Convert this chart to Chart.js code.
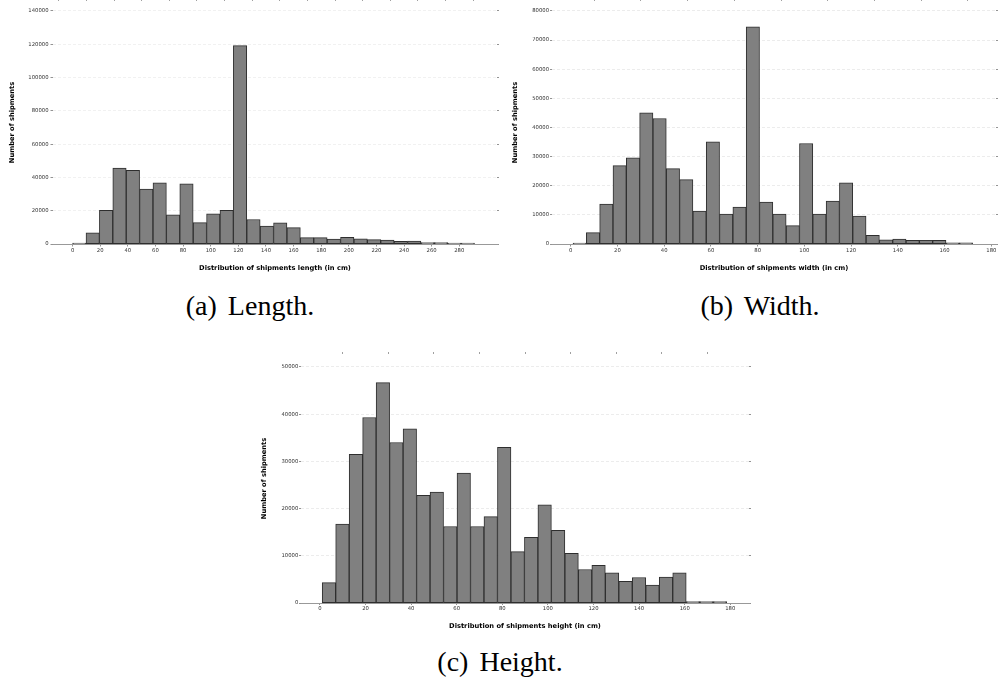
<!DOCTYPE html>
<html>
<head>
<meta charset="utf-8">
<script src="https://cdn.jsdelivr.net/npm/chart.js@4.4.1/dist/chart.umd.min.js"></script>
<style>
  body { margin: 0; background: #fff; width: 999px; height: 684px; position: relative; overflow: hidden; }
  canvas { position: absolute; }
  .caption { position: absolute; width: 300px; text-align: center; font-family: 'Liberation Serif', serif; font-size: 28px; line-height: 28px; word-spacing: 4px; color: #000; }
</style>
</head>
<body>
<canvas id="lengthChart" width="500" height="280" style="left:0;top:0"></canvas>
<canvas id="widthChart" width="499" height="280" style="left:500px;top:0"></canvas>
<canvas id="heightChart" width="502" height="300" style="left:250px;top:340px"></canvas>
<div class="caption" style="left:100px;top:292px">(a) Length.</div>
<div class="caption" style="left:610px;top:292px">(b) Width.</div>
<div class="caption" style="left:350px;top:648px">(c) Height.</div>
<script>
// counts per bin (30 bins each)
const lengthCounts = [600, 6700, 20200, 45600, 44200, 33000, 36800, 17600, 36200, 12800,
                      18200, 20200, 119200, 14700, 10800, 12700, 9800, 3800, 3800, 3000,
                      4000, 3100, 2600, 2400, 1600, 1700, 900, 800, 600, 500];
const widthCounts = [300, 3900, 13700, 26900, 29600, 45000, 43100, 25900, 22100, 11300,
                     35100, 10300, 12700, 74600, 14400, 10300, 6300, 34500, 10300, 14700,
                     21000, 9600, 3000, 1400, 1700, 1300, 1300, 1300, 400, 400];
const heightCounts = [4300, 16700, 31500, 39300, 46700, 34000, 36900, 22800, 23500, 16200,
                      27500, 16200, 18300, 33000, 10900, 13900, 20800, 15400, 10500, 7100,
                      8000, 6400, 4600, 5400, 3800, 5500, 6400, 300, 300, 300];

// first and last bin edge (cm)
const lengthRange = [0, 291];
const widthRange = [1, 172];
const heightRange = [1, 178.4];

// tick labels
const lengthTicks = [0, 20, 40, 60, 80, 100, 120, 140, 160, 180, 200, 220, 240, 260, 280];
const sizeTicks = [0, 20, 40, 60, 80, 100, 120, 140, 160, 180];
const lengthCountTicks = [0, 20000, 40000, 60000, 80000, 100000, 120000, 140000];
const widthCountTicks = [0, 10000, 20000, 30000, 40000, 50000, 60000, 70000, 80000];
const heightCountTicks = [0, 10000, 20000, 30000, 40000, 50000];

const fam = 'DejaVu Sans';

function binData(counts, range) {
    const w = (range[1] - range[0]) / counts.length;
    return counts.map((c, i) => ({ x: range[0] + (i + 0.5) * w, y: c }));
}

function fixTicks(list) {
    return axis => { axis.ticks = list.map(v => ({ value: v })); };
}

// fixed axis box sizes, no extra label padding
function fixSize(prop, size) {
    return s => {
        s[prop] = size;
        s.paddingTop = 0; s.paddingBottom = 0; s.paddingLeft = 0; s.paddingRight = 0;
    };
}

function histogram(id, c) {
    const gridColor = ctx => (ctx.tick && ctx.tick.value === 0) ? 'rgba(0,0,0,0)' : c.gridColor;
    new Chart(document.getElementById(id), {
        type: 'bar',
        data: {
            datasets: [{
                data: binData(c.counts, c.range),
                backgroundColor: '#808080',
                borderColor: '#2e2e2e',
                borderWidth: 1,
                borderSkipped: false,
                barPercentage: 1,
                categoryPercentage: 1
            }]
        },
        options: {
            responsive: false,
            animation: false,
            events: [],
            layout: { padding: 0 },
            plugins: { legend: { display: false }, tooltip: { enabled: false } },
            scales: {
                x: {
                    type: 'linear', position: 'bottom', min: c.xMin, max: c.xMax, offset: false,
                    afterBuildTicks: fixTicks(c.xTicks),
                    afterFit: fixSize('height', c.bottom),
                    grid: { offset: false, drawOnChartArea: false, tickLength: c.xTickLen, tickColor: '#777', tickWidth: 0.8 },
                    border: { color: '#999', width: 1 },
                    ticks: { padding: c.xTickPad, color: '#333', font: { family: fam, size: 5.3 }, maxRotation: 0, autoSkip: false, callback: v => String(v) },
                    title: { display: true, text: c.xLabel, color: '#000', font: { family: fam, size: 6.7, weight: 'bold' }, padding: { top: 0, bottom: c.xTitlePad } }
                },
                xTop: {
                    type: 'linear', position: 'top', min: c.xMin, max: c.xMax, offset: false,
                    afterBuildTicks: fixTicks(c.xTicks),
                    afterFit: fixSize('height', c.top),
                    grid: { drawOnChartArea: false, tickLength: 2, tickColor: '#888', tickWidth: 0.8 },
                    border: { display: false },
                    ticks: { display: false }
                },
                y: {
                    position: 'left', min: 0, max: c.yMax, z: c.gridOnTop ? 1 : 0,
                    afterBuildTicks: fixTicks(c.yTicks),
                    afterFit: fixSize('width', c.yWidth),
                    grid: { color: gridColor, lineWidth: 0.8, tickLength: c.yTickLen, tickColor: '#777', tickWidth: 0.8 },
                    border: { display: false, dash: [3, 2] },
                    ticks: { padding: c.yTickPad, color: '#333', font: { family: fam, size: 5.3 }, callback: v => String(v) },
                    title: { display: true, text: 'Number of shipments', color: '#000', font: { family: fam, size: 6.7, weight: 'bold' }, padding: { top: c.yTitlePad, bottom: 0 } }
                },
                yRight: {
                    position: 'right', min: 0, max: c.yMax,
                    afterBuildTicks: fixTicks(c.yTicks),
                    afterFit: fixSize('width', 3),
                    grid: { drawOnChartArea: false, tickLength: 2, tickColor: '#777', tickWidth: 0.8 },
                    border: { display: false },
                    ticks: { display: false }
                }
            }
        }
    });
}

// (a) length
histogram('lengthChart', {
    counts: lengthCounts, range: lengthRange, xTicks: lengthTicks, yTicks: lengthCountTicks,
    xMin: -14.2, xMax: 307.3, yMax: 146000,
    xLabel: 'Distribution of shipments length (in cm)',
    yWidth: 53, bottom: 36, top: 1,
    xTickLen: 2.5, xTickPad: 1, xTitlePad: 8,
    yTickLen: 2.5, yTickPad: 2, yTitlePad: 8.5,
    gridOnTop: false, gridColor: '#ededed'
});

// (b) width
histogram('widthChart', {
    counts: widthCounts, range: widthRange, xTicks: sizeTicks, yTicks: widthCountTicks,
    xMin: -8, xMax: 182, yMax: 83430,
    xLabel: 'Distribution of shipments width (in cm)',
    yWidth: 52, bottom: 36, top: 1,
    xTickLen: 2.5, xTickPad: 1, xTitlePad: 7.7,
    yTickLen: 2, yTickPad: 1, yTitlePad: 11,
    gridOnTop: true, gridColor: 'rgba(215,215,215,0.6)'
});

// (c) height
histogram('heightChart', {
    counts: heightCounts, range: heightRange, xTicks: sizeTicks, yTicks: heightCountTicks,
    xMin: -8.3, xMax: 188.2, yMax: 52750,
    xLabel: 'Distribution of shipments height (in cm)',
    yWidth: 51, bottom: 37, top: 14,
    xTickLen: 2, xTickPad: 0.8, xTitlePad: 9.3,
    yTickLen: 2, yTickPad: 0.7, yTitlePad: 10,
    gridOnTop: true, gridColor: 'rgba(215,215,215,0.6)'
});
</script>
</body>
</html>
